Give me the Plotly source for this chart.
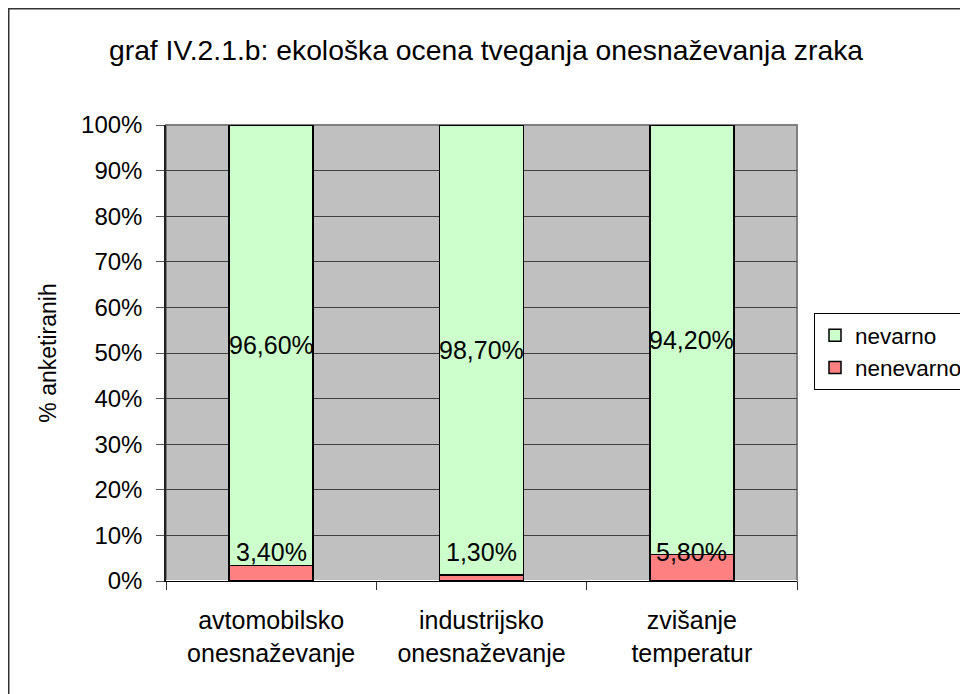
import plotly.graph_objects as go

categories = ["avtomobilsko<br>onesnaževanje", "industrijsko<br>onesnaževanje", "zvišanje<br>temperatur"]
nenevarno = [3.4, 1.3, 5.8]
nevarno = [96.6, 98.7, 94.2]
y_ticks = list(range(0, 101, 10))
y_tick_labels = [f"{v}%" for v in y_ticks]

FONT = "Liberation Sans, Arial, sans-serif"

# plot area in figure pixels
PL, PR, PT, PB = 158, 789, 117, 573
W, H = 968, 694

def fmt(v):
    return f"{v:.2f}".replace(".", ",") + "%"

fig = go.Figure()
fig.add_trace(go.Bar(x=categories, y=nenevarno, name="nenevarno",
                     marker=dict(color="#FF8080", line=dict(color="black", width=1.5)),
                     legendrank=2))
fig.add_trace(go.Bar(x=categories, y=nevarno, name="nevarno",
                     marker=dict(color="#CCFFCC", line=dict(color="black", width=1.5)),
                     legendrank=1))

annotations = []
for c, r, g in zip(categories, nenevarno, nevarno):
    annotations.append(dict(x=c, y=max(r / 2, 6.4), text=fmt(r), showarrow=False,
                            xref="x", yref="y", font=dict(size=25, color="black", family=FONT)))
    annotations.append(dict(x=c, y=r + g / 2, text=fmt(g), showarrow=False,
                            xref="x", yref="y", font=dict(size=25, color="black", family=FONT)))

pw, ph = PR - PL, PB - PT
fig.update_layout(
    width=W, height=H,
    margin=dict(l=PL, r=W - PR, t=PT, b=H - PB, autoexpand=False),
    paper_bgcolor="white", plot_bgcolor="#C0C0C0",
    barmode="stack", bargap=0.6,
    font=dict(family=FONT, size=24, color="black"),
    title=dict(text="graf IV.2.1.b: ekološka ocena tveganja onesnaževanja zraka",
               x=(478 - PL) / pw, xref="paper", xanchor="center", y=1 - 42 / H, yanchor="middle",
               font=dict(size=28.3, family=FONT, color="black")),
    legend=dict(x=(806 - PL) / pw, y=(PB - 305) / ph, xanchor="left", yanchor="top",
                bgcolor="white", bordercolor="black", borderwidth=1,
                traceorder="normal", tracegroupgap=16,
                font=dict(size=22.5, family=FONT)),
    annotations=annotations,
    showlegend=True,
)
fig.update_xaxes(showgrid=False, showline=True, linecolor="black", linewidth=1,
                 ticks="outside", tickson="boundaries", ticklen=8, tickcolor="#333333",
                 ticklabelstandoff=17, automargin=False,
                 tickfont=dict(size=25, family=FONT))
fig.update_yaxes(range=[0, 100], tickvals=y_ticks, ticktext=y_tick_labels,
                 showgrid=True, gridcolor="#404040", gridwidth=1,
                 showline=True, linecolor="#222222", linewidth=1.5,
                 ticks="outside", ticklen=8, tickcolor="#555555",
                 ticklabelstandoff=9, automargin=False,
                 tickfont=dict(size=24, family=FONT),
                 title=dict(text="% anketiranih", font=dict(size=23, family=FONT), standoff=18))

# plot-area frame (top/right edges)
fig.add_shape(type="rect", xref="paper", yref="paper", x0=0, x1=1, y0=0, y1=1,
              line=dict(color="#808080", width=2), fillcolor="rgba(0,0,0,0)", layer="below")
# outer chart border
fig.add_shape(type="rect", xref="paper", yref="paper",
              x0=(0.75 - PL) / pw, x1=2, y0=-1, y1=(PB - 0.75) / ph,
              line=dict(color="#333333", width=1.5), fillcolor="rgba(0,0,0,0)", layer="below")

fig.write_html("out.html")
